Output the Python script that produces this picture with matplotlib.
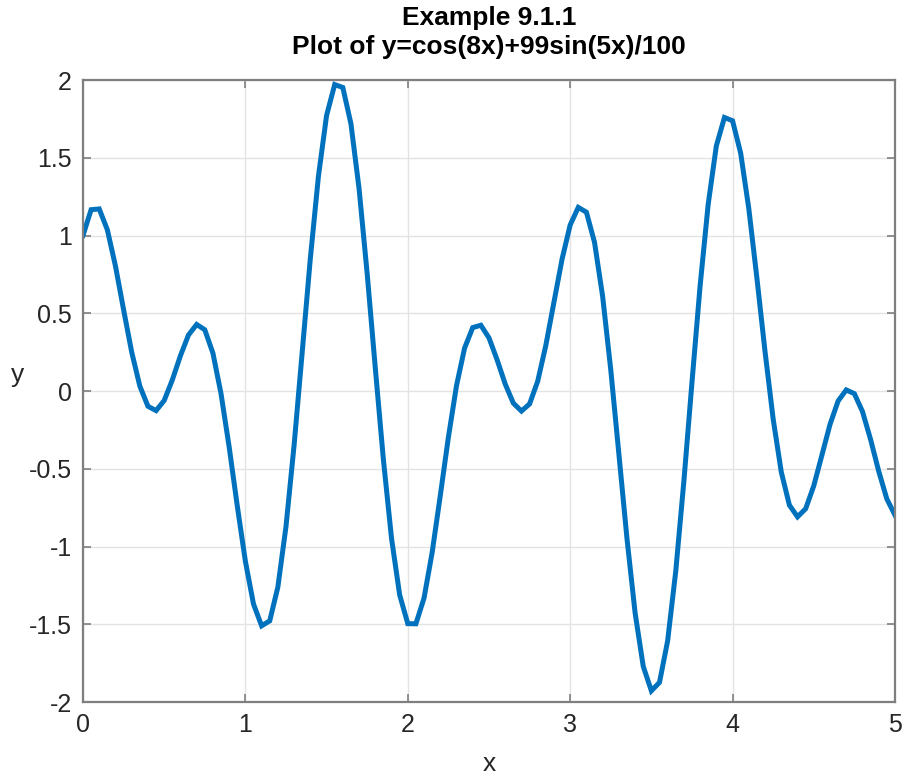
import numpy as np
import matplotlib
matplotlib.use("Agg")
import matplotlib.pyplot as plt

# samples, x from 0 to 5 in steps of 0.05
x_start = 0.0
x_stop = 5.0
y_values = [
    1.000, 1.166, 1.171, 1.037, 0.804, 0.523, 0.250, 0.032, -0.098, -0.126,
    -0.061, 0.071, 0.227, 0.361, 0.428, 0.394, 0.244, -0.017, -0.359, -0.738,
    -1.095, -1.370, -1.510, -1.478, -1.261, -0.872, -0.348, 0.251, 0.853, 1.383,
    1.772, 1.971, 1.952, 1.719, 1.302, 0.755, 0.148, -0.443, -0.948, -1.311,
    -1.496, -1.497, -1.332, -1.039, -0.674, -0.298, 0.034, 0.277, 0.408, 0.423,
    0.342, 0.201, 0.045, -0.078, -0.129, -0.083, 0.063, 0.293, 0.571, 0.848,
    1.068, 1.181, 1.150, 0.956, 0.608, 0.136, -0.406, -0.951, -1.428, -1.771,
    -1.928, -1.874, -1.608, -1.160, -0.582, 0.056, 0.675, 1.202, 1.576, 1.759,
    1.738, 1.529, 1.173, 0.725, 0.253, -0.180, -0.521, -0.734, -0.809, -0.757,
    -0.610, -0.413, -0.215, -0.064, 0.007, -0.017, -0.132, -0.312, -0.516, -0.694,
    -0.798,
]
x_ticks = [0, 1, 2, 3, 4, 5]
x_ticklabels = ["0", "1", "2", "3", "4", "5"]
y_ticks = [-2, -1.5, -1, -0.5, 0, 0.5, 1, 1.5, 2]
y_ticklabels = ["-2", "-1.5", "-1", "-0.5", "0", "0.5", "1", "1.5", "2"]
title_lines = ["Example 9.1.1", "Plot of y=cos(8x)+99sin(5x)/100"]

x_values = np.linspace(x_start, x_stop, len(y_values))

plt.rcParams["font.family"] = ["Liberation Sans", "DejaVu Sans"]

fig = plt.figure(figsize=(9.02, 7.74), dpi=100)
ax = fig.add_axes([0.092, 0.093, 0.9002, 0.8036])

ax.plot(x_values, y_values, color="#0072BD", linewidth=3.6, solid_joinstyle="miter")

ax.set_xlim(0, 5)
ax.set_ylim(-2, 2)
ax.set_xticks(x_ticks)
ax.set_xticklabels(x_ticklabels)
ax.set_yticks(y_ticks)
ax.set_yticklabels(y_ticklabels)

ax.grid(True, color="#e3e3e3", linewidth=1.0)
ax.set_axisbelow(True)
for s in ax.spines.values():
    s.set_color("#7f7f7f")
    s.set_linewidth(1.6)
ax.tick_params(direction="in", length=6, width=1.2, color="#7f7f7f",
               top=True, right=True, labelsize=18, labelcolor="#262626", pad=8)

# two-line bold title, placed line by line
fig.text(0.5421, 1 - 18 / 774, title_lines[0], fontsize=19, fontweight="bold",
         ha="center", va="center")
fig.text(0.5421, 1 - 47 / 774, title_lines[1], fontsize=19, fontweight="bold",
         ha="center", va="center")

ax.set_xlabel("x", fontsize=19, color="#262626", va="center")
ax.set_ylabel("y", fontsize=19, color="#262626", rotation=0, ha="center", va="center")
ax.xaxis.set_label_coords(0.5, -0.099)
ax.yaxis.set_label_coords(-0.080, 0.526)

fig.savefig("out.png", dpi=100)
